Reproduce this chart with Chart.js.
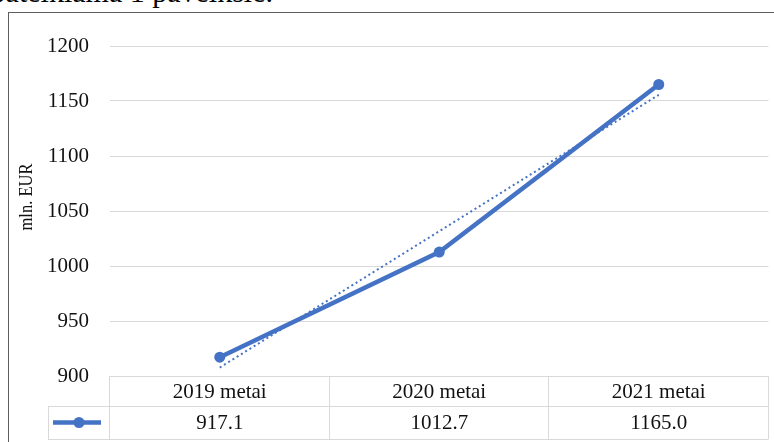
<!DOCTYPE html>
<html lang="lt">
<head>
<meta charset="utf-8">
<script src="https://cdn.jsdelivr.net/npm/chart.js@4.4.1/dist/chart.umd.min.js"></script>
<style>
  html, body { margin: 0; padding: 0; background: #fff; overflow: hidden; }
  #wrap { position: relative; width: 774px; height: 442px; }
  #lead {
    position: absolute; right: 501px; top: -24px;
    font: 30px "Liberation Serif", "Times New Roman", serif; color: #000;
    white-space: nowrap; line-height: 32px;
  }
  #frame {
    position: absolute; left: 8px; top: 12px; width: 780px; height: 450px;
    border: 1px solid #5e5e5e; box-sizing: border-box;
  }
  canvas { position: absolute; left: 0; top: 0; }
</style>
</head>
<body>
<div id="wrap">
  <div id="lead">pateikiama 1 paveiksle.</div>
  <div id="frame"></div>
  <canvas id="chart" width="774" height="442"></canvas>
</div>
<script>
// Revenue by year, mln. EUR
const categories = ['2019 metai', '2020 metai', '2021 metai'];
const values = [917.1, 1012.7, 1165.0];
// Linear trend line values at each year
const trendValues = [907.7, 1031.6, 1155.6];
const yTicks = [900, 950, 1000, 1050, 1100, 1150, 1200];
const axisTitle = 'mln. EUR';

const BLUE = '#4472C4';
const GRID = '#d9d9d9';
const TEXT = '#111';
const FONT = '"Liberation Serif", "Times New Roman", serif';

// Data table under the plot: category header row, values row, legend key;
// plus the rotated value-axis title
const dataTable = {
  id: 'dataTable',
  afterDraw(chart) {
    const { ctx, chartArea } = chart;
    const xs = chart.scales.x;
    const n = categories.length;
    const left = chartArea.left, right = chartArea.right;
    const band = (right - left) / n;
    const top = chartArea.bottom;
    const mid = top + 30;
    const bottom = top + 63;
    const keyLeft = 48;

    ctx.save();
    ctx.strokeStyle = GRID;
    ctx.lineWidth = 1;
    ctx.beginPath();
    // horizontal rules
    ctx.moveTo(left, top + 0.5); ctx.lineTo(right, top + 0.5);
    ctx.moveTo(keyLeft, mid + 0.5); ctx.lineTo(right, mid + 0.5);
    ctx.moveTo(keyLeft, bottom + 0.5); ctx.lineTo(right, bottom + 0.5);
    // vertical rules
    for (let i = 0; i <= n; i++) {
      const x = Math.round(left + band * i) - 0.5;
      ctx.moveTo(x, top); ctx.lineTo(x, bottom);
    }
    ctx.moveTo(keyLeft + 0.5, mid); ctx.lineTo(keyLeft + 0.5, bottom);
    ctx.stroke();

    ctx.fillStyle = TEXT;
    ctx.font = '21px ' + FONT;
    ctx.textAlign = 'center';
    ctx.textBaseline = 'middle';
    categories.forEach((c, i) => {
      const x = xs.getPixelForValue(i);
      ctx.fillText(c, x, (top + mid) / 2 + 1);
      ctx.fillText(values[i].toFixed(1), x, (mid + bottom) / 2 + 1);
    });

    // legend key
    const ky = (mid + bottom) / 2;
    ctx.strokeStyle = BLUE;
    ctx.lineWidth = 4.5;
    ctx.lineCap = 'butt';
    ctx.beginPath();
    ctx.moveTo(keyLeft + 5, ky); ctx.lineTo(left - 9, ky);
    ctx.stroke();
    ctx.fillStyle = BLUE;
    ctx.beginPath();
    ctx.arc((keyLeft + left) / 2, ky, 5.5, 0, Math.PI * 2);
    ctx.fill();

    // value-axis title (slightly condensed serif)
    ctx.translate(27, 197);
    ctx.rotate(-Math.PI / 2);
    ctx.scale(0.92, 1.1);
    ctx.fillStyle = TEXT;
    ctx.font = '18px ' + FONT;
    ctx.fillText(axisTitle, 0, 0);
    ctx.restore();
  }
};

new Chart(document.getElementById('chart'), {
  type: 'line',
  data: {
    labels: categories,
    datasets: [
      {
        label: 'Tendencija',
        data: trendValues,
        borderColor: BLUE,
        borderWidth: 2,
        borderDash: [2, 3],
        pointRadius: 0,
        tension: 0,
        order: 0
      },
      {
        label: axisTitle,
        data: values,
        borderColor: BLUE,
        backgroundColor: BLUE,
        borderWidth: 4.5,
        pointRadius: 5.5,
        pointBackgroundColor: BLUE,
        pointBorderWidth: 0,
        tension: 0,
        order: 1
      }
    ]
  },
  options: {
    responsive: false,
    animation: false,
    devicePixelRatio: 1,
    layout: { padding: { left: 0, top: 46, right: 2, bottom: 66 } },
    plugins: { legend: { display: false }, tooltip: { enabled: false } },
    scales: {
      x: { type: 'category', display: false, offset: true },
      y: {
        min: 900, max: 1200,
        afterFit(scale) { scale.width = 110; },
        afterBuildTicks(scale) { scale.ticks = yTicks.map(v => ({ value: v })); },
        grid: { color: GRID, lineWidth: 1, drawTicks: false },
        border: { display: false },
        ticks: {
          padding: 21,
          color: TEXT,
          font: { family: FONT, size: 21 },
          callback: (v) => String(v)
        }
      }
    }
  },
  plugins: [dataTable]
});
</script>
</body>
</html>
